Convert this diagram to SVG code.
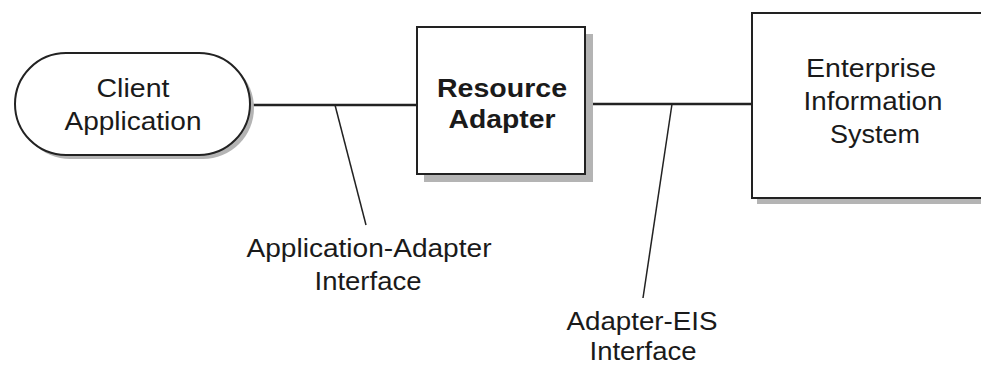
<svg xmlns="http://www.w3.org/2000/svg" width="981" height="367" viewBox="0 0 981 367">
<style>
.shadow{fill:#b4b4b4;stroke:none}
.node{fill:#fff;stroke:#222;stroke-width:2}
.t{font-family:"Liberation Sans",Arial,sans-serif;font-size:26px;fill:#1a1a1a;text-anchor:middle}
.b{font-weight:bold}
.conn{stroke:#222;stroke-width:2.5;fill:none}
.lead{stroke:#222;stroke-width:1.5;fill:none}
</style>
<rect width="981" height="367" fill="#fff"/>
<g id="connectors">
<line class="conn" x1="250" y1="105" x2="417" y2="105"/>
<line class="conn" x1="585" y1="104" x2="752" y2="104"/>
<line class="lead" x1="335" y1="105" x2="366" y2="225"/>
<line class="lead" x1="672" y1="104" x2="643" y2="298"/>
</g>
<g id="client">
<rect class="shadow" x="19" y="57" width="235" height="102" rx="51"/>
<rect class="node" x="15" y="53" width="235" height="102" rx="51"/>
<text class="t" x="133" y="97" textLength="73" lengthAdjust="spacingAndGlyphs">Client</text>
<text class="t" x="133" y="130" textLength="137" lengthAdjust="spacingAndGlyphs">Application</text>
</g>
<g id="adapter">
<rect class="shadow" x="424" y="34" width="169" height="148"/>
<rect class="node" x="417" y="27" width="168" height="147"/>
<text class="t b" x="502" y="97" textLength="130" lengthAdjust="spacingAndGlyphs">Resource</text>
<text class="t b" x="502" y="128" textLength="107" lengthAdjust="spacingAndGlyphs">Adapter</text>
</g>
<g id="eis">
<rect class="shadow" x="757" y="18" width="260" height="186"/>
<rect class="node" x="752" y="13" width="260" height="185"/>
<text class="t" x="871" y="77" textLength="130" lengthAdjust="spacingAndGlyphs">Enterprise</text>
<text class="t" x="873" y="110" textLength="139" lengthAdjust="spacingAndGlyphs">Information</text>
<text class="t" x="875" y="143" textLength="90" lengthAdjust="spacingAndGlyphs">System</text>
</g>
<g id="label-app-adapter">
<text class="t" x="369" y="257" textLength="245" lengthAdjust="spacingAndGlyphs">Application-Adapter</text>
<text class="t" x="368" y="290" textLength="107" lengthAdjust="spacingAndGlyphs">Interface</text>
</g>
<g id="label-adapter-eis">
<text class="t" x="642" y="330" textLength="151" lengthAdjust="spacingAndGlyphs">Adapter-EIS</text>
<text class="t" x="643" y="360" textLength="107" lengthAdjust="spacingAndGlyphs">Interface</text>
</g>
</svg>
